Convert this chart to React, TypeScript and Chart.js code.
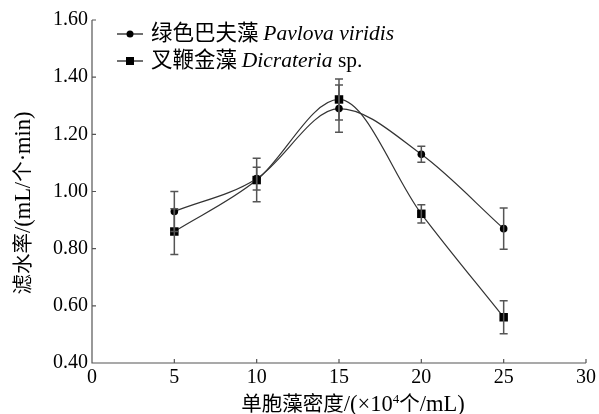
import React, { useEffect, useRef } from "react";
import { Chart, registerables } from "chart.js";
Chart.register(...registerables);

const densities = [5, 10, 15, 20, 25];
const pavlova = [0.93, 1.045, 1.29, 1.13, 0.87];
const pavlovaErr = [0.07, 0.04, 0.083, 0.028, 0.072];
const dicrateria = [0.86, 1.04, 1.322, 0.922, 0.56];
const dicrateriaErr = [0.08, 0.076, 0.072, 0.032, 0.058];
const xTitleParts = ["单胞藻密度/(×10", "4", "个/mL)"];
const yTitle = "滤水率/(mL/个·min)";
const legendCn = ["绿色巴夫藻 ", "叉鞭金藻 "];
const legendLatin = ["Pavlova viridis", "Dicrateria"];
const legendTail = ["", " sp."];

const SERIF = "'Liberation Serif', serif";
const CJK = "'Noto Sans CJK SC', sans-serif";
const TICK_FS = 20;

const isCjk = (ch: string) => /[\u3000-\u9fff\uff00-\uffef]/.test(ch);

function splitRuns(text: string, latinFont: string, cjkFont: string) {
  const runs: { t: string; f: string }[] = [];
  for (const ch of text) {
    const f = isCjk(ch) ? cjkFont : latinFont;
    const last = runs[runs.length - 1];
    if (last && last.f === f) last.t += ch;
    else runs.push({ t: ch, f });
  }
  return runs;
}

function runsWidth(ctx: any, runs: { t: string; f: string }[]) {
  let w = 0;
  for (const r of runs) {
    ctx.font = r.f;
    w += ctx.measureText(r.t).width;
  }
  return w;
}

function drawRuns(ctx: any, runs: { t: string; f: string; dy?: number }[], x: number, y: number) {
  let cx = x;
  for (const r of runs) {
    ctx.font = r.f;
    ctx.fillText(r.t, cx, y + (r.dy || 0));
    cx += ctx.measureText(r.t).width;
  }
  return cx;
}

const overlay = {
  id: "overlay",
  afterDatasetsDraw(chart: any) {
    const ctx = chart.ctx;
    const xs = chart.scales.x;
    const ys = chart.scales.y;
    const ca = chart.chartArea;
    ctx.save();
    // error bars
    const errs = [pavlovaErr, dicrateriaErr];
    chart.data.datasets.forEach((ds: any, di: number) => {
      ds.data.forEach((p: any, i: number) => {
        const e = errs[di][i];
        const x = xs.getPixelForValue(p.x);
        const y1 = ys.getPixelForValue(p.y + e);
        const y2 = ys.getPixelForValue(p.y - e);
        ctx.strokeStyle = "#555";
        ctx.lineWidth = 1.5;
        ctx.beginPath();
        ctx.moveTo(x, y1);
        ctx.lineTo(x, y2);
        ctx.moveTo(x - 4, y1);
        ctx.lineTo(x + 4, y1);
        ctx.moveTo(x - 4, y2);
        ctx.lineTo(x + 4, y2);
        ctx.stroke();
      });
    });
    // axes
    ctx.strokeStyle = "#555";
    ctx.lineWidth = 1.2;
    ctx.beginPath();
    ctx.moveTo(ca.left, ca.top);
    ctx.lineTo(ca.left, ca.bottom);
    ctx.lineTo(ca.right, ca.bottom);
    ys.ticks.forEach((t: any) => {
      const y = ys.getPixelForValue(t.value);
      ctx.moveTo(ca.left, y);
      ctx.lineTo(ca.left + 4, y);
    });
    xs.ticks.forEach((t: any) => {
      const x = xs.getPixelForValue(t.value);
      ctx.moveTo(x, ca.bottom);
      ctx.lineTo(x, ca.bottom - 4);
    });
    ctx.stroke();

    ctx.fillStyle = "#000";
    ctx.textAlign = "left";
    ctx.textBaseline = "alphabetic";
    const titleLatin = `22.5px ${SERIF}`;
    const titleCjk = `20.5px ${CJK}`;

    // y title
    const yRuns = splitRuns(yTitle, titleLatin, titleCjk);
    const yw = runsWidth(ctx, yRuns);
    ctx.save();
    ctx.translate(30, 203);
    ctx.rotate(-Math.PI / 2);
    drawRuns(ctx, yRuns, -yw / 2, 0);
    ctx.restore();

    // x title
    const xRuns: { t: string; f: string; dy?: number }[] = [
      ...splitRuns(xTitleParts[0], titleLatin, titleCjk),
      { t: xTitleParts[1], f: `13px ${SERIF}`, dy: -8 },
      ...splitRuns(xTitleParts[2], titleLatin, titleCjk),
    ];
    const xw = runsWidth(ctx, xRuns);
    drawRuns(ctx, xRuns, 353 - xw / 2, 411);

    // legend
    const rows = [34, 61];
    const baselines = [40, 67];
    chart.data.datasets.forEach((ds: any, i: number) => {
      const y = rows[i];
      ctx.strokeStyle = "#222";
      ctx.lineWidth = 1.3;
      ctx.beginPath();
      ctx.moveTo(117, y);
      ctx.lineTo(143, y);
      ctx.stroke();
      ctx.fillStyle = "#000";
      if (i === 0) {
        ctx.beginPath();
        ctx.arc(130, y, 3.5, 0, Math.PI * 2);
        ctx.fill();
      } else {
        ctx.fillRect(126, y - 4, 8, 8);
      }
      drawRuns(
        ctx,
        [
          { t: legendCn[i], f: `21.5px ${CJK}` },
          { t: legendLatin[i], f: `italic 21.5px ${SERIF}` },
          { t: legendTail[i], f: `21.5px ${SERIF}` },
        ],
        151,
        baselines[i]
      );
    });
    ctx.restore();
  },
};

export default function App() {
  const ref = useRef<HTMLCanvasElement>(null);
  useEffect(() => {
    const chart = new Chart(ref.current!, {
      type: "scatter",
      data: {
        datasets: [
          {
            label: "绿色巴夫藻 Pavlova viridis",
            data: densities.map((x, i) => ({ x, y: pavlova[i] })),
            showLine: true,
            cubicInterpolationMode: "monotone",
            borderColor: "#333",
            borderWidth: 1.2,
            pointStyle: "circle",
            pointRadius: 3.8,
            pointBackgroundColor: "#000",
            pointBorderColor: "#000",
            pointBorderWidth: 0,
          },
          {
            label: "叉鞭金藻 Dicrateria sp.",
            data: densities.map((x, i) => ({ x, y: dicrateria[i] })),
            showLine: true,
            cubicInterpolationMode: "monotone",
            borderColor: "#333",
            borderWidth: 1.2,
            pointStyle: "rect",
            pointRadius: 6,
            pointBackgroundColor: "#000",
            pointBorderColor: "#000",
            pointBorderWidth: 0,
          },
        ],
      },
      options: {
        animation: false,
        responsive: false,
        layout: { padding: { top: 20, right: 11, left: 0, bottom: 0 } },
        plugins: { legend: { display: false }, tooltip: { enabled: false } },
        scales: {
          x: {
            type: "linear",
            min: 0,
            max: 30,
            ticks: { stepSize: 5, color: "#000", font: { family: SERIF, size: TICK_FS }, padding: 3, maxRotation: 0 },
            grid: { display: false, drawTicks: false },
            border: { display: false },
            afterFit: (s: any) => { s.height = 51; },
          },
          y: {
            type: "linear",
            min: 0.4,
            max: 1.6,
            ticks: {
              stepSize: 0.2,
              color: "#000",
              font: { family: SERIF, size: TICK_FS },
              padding: 4,
              callback: (v: any) => Number(v).toFixed(2),
            },
            grid: { display: false, drawTicks: false },
            border: { display: false },
            afterFit: (s: any) => { s.width = 92; },
          },
        },
      },
      plugins: [overlay],
    });
    return () => chart.destroy();
  }, []);
  return (
    <div style={{ position: "fixed", left: 0, top: 0, width: 599, height: 414, background: "#fff" }}>
      <canvas ref={ref} width={599} height={414} style={{ width: 599, height: 414 }} />
    </div>
  );
}
